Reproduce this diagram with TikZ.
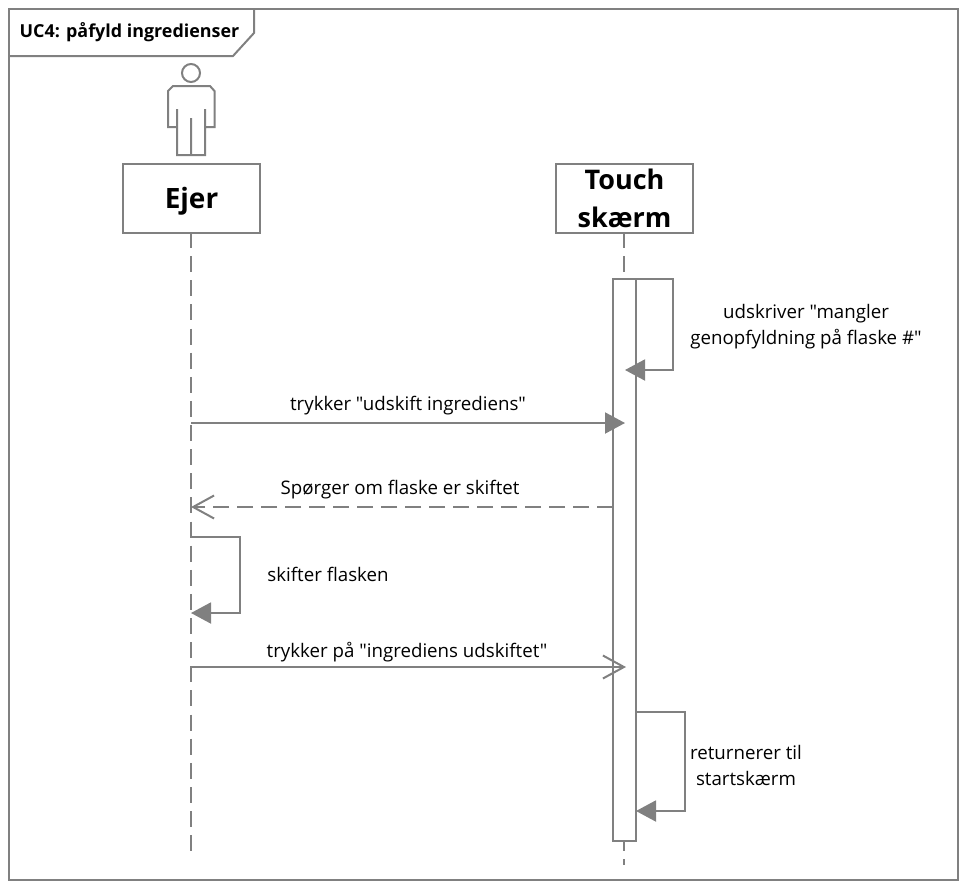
\documentclass[tikz,border=0pt]{standalone}
\usepackage{fontspec}
\setmainfont{Open Sans}[Ligatures=TeXOff]
\usetikzlibrary{arrows.meta}

\definecolor{umlgrey}{RGB}{128,128,128}
\newcommand{\lnwd}{2pt}
\newcommand{\lbl}{\node[seqlabel]}
\newcommand{\hdr}{\node[headbox]}
\newcommand{\pt}{\coordinate}

\tikzset{
    seqline/.style={draw=umlgrey, line width=\lnwd},
    headbox/.style={seqline, fill=white, minimum width=137pt, minimum height=69pt,
        inner sep=0pt, align=center, text=black},
    seqlabel/.style={inner sep=0pt, align=center, text=black, font=\fontsize{18.7}{26.5}\selectfont},
    lifeline/.style={seqline, dash pattern=on 16pt off 8.13pt},
    solidtip/.style={seqline, -{Triangle[length=20pt, width=21pt, fill=umlgrey]}, shorten >=-1pt},
    opentip/.style={seqline, -{Straight Barb[length=21pt, width=23pt, line width=\lnwd]}},
}

\begin{document}
\begin{tikzpicture}[x=1pt, y=-1pt]
            \useasboundingbox (0,0) rectangle (966,884);

            % frame
            \draw[seqline] (9,9) rectangle (958,880);
            \draw[seqline] (9,56) -- (233,56) -- (254,33) -- (254,9);
            \node[inner sep=0pt, font=\fontsize{17.9}{20}\selectfont\bfseries] (title) at (129.5,32) {UC4: påfyld ingredienser};

            % actor
            \draw[seqline] (191,73) circle (9);
            \draw[seqline] (177,109) -- (177,155) -- (205,155) -- (205,109)
                (205,127) -- (214.5,127) -- (214.5,91) -- (210,86) -- (173,86) -- (168,91) -- (168,127) -- (177,127)
                (191,118) -- (191,155);

            % lifelines
            \pt (ejerstart) at (191,232);
            \pt (ejerend) at (191,852);
            \pt (touchstart) at (624,232);
            \pt (touchend) at (624,865);
            \draw[lifeline] (ejerstart) -- (ejerend);
            \draw[lifeline] (touchstart) -- (touchend);

            % heads
            \hdr[font=\fontsize{28}{35}\selectfont\bfseries] (ejer) at (191.5,198.5) {\raisebox{0pt}[19pt][0pt]{Ejer}};
            \hdr[font=\fontsize{27}{37.5}\selectfont\bfseries] (touch) at (624.5,198.5) {\raisebox{1pt}{Touch}\\\raisebox{1pt}{skærm}};

            % activation
            \node[seqline, fill=white, minimum width=23pt, minimum height=562pt, inner sep=0pt] (bar) at (624.5,560) {};

            % messages
            \pt (a1) at (613,279);
            \pt (a2) at (673,279);
            \pt (a3) at (673,370);
            \pt (a4) at (626,370);
            \pt (b1) at (191,423);
            \pt (b2) at (624,423);
            \pt (c1) at (613,507);
            \pt (c2) at (191,507);
            \pt (d1) at (191,537);
            \pt (d2) at (240,537);
            \pt (d3) at (240,613);
            \pt (d4) at (192,613);
            \pt (e1) at (191,667);
            \pt (e2) at (626,667);
            \pt (f1) at (636,712);
            \pt (f2) at (685,712);
            \pt (f3) at (685,811);
            \pt (f4) at (637,811);

            \draw[solidtip] (a1) -- (a2) -- (a3) -- (a4);
            \draw[solidtip] (b1) -- (b2);
            \draw[opentip, dash pattern=on 16pt off 8pt] (c1) -- (c2);
            \draw[solidtip] (d1) -- (d2) -- (d3) -- (d4);
            \draw[opentip] (e1) -- (e2);
            \draw[solidtip] (f1) -- (f2) -- (f3) -- (f4);

            % labels
            \lbl (l1) at (806,326.5) {udskriver "mangler\\genopfyldning på flaske \#"};
            \lbl (l2) at (408,405.5) {trykker "udskift ingrediens"};
            \lbl (l3) at (400,489.5) {Spørger om flaske er skiftet};
            \lbl (l4) at (328,574) {skifter flasken};
            \lbl (l5) at (407,652) {trykker på "ingrediens udskiftet"};
            \lbl (l6) at (746,765.5) {returnerer til\\startskærm};
\end{tikzpicture}
\end{document}
